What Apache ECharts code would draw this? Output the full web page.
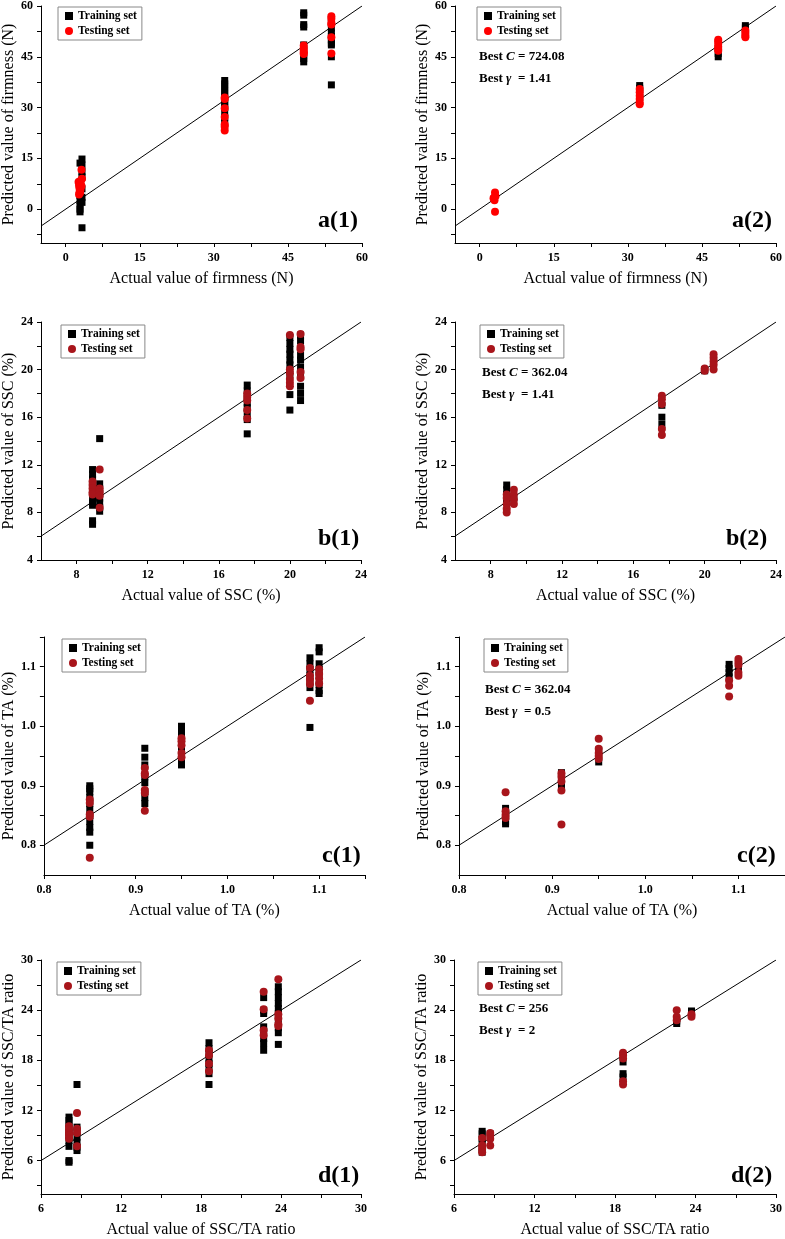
<!DOCTYPE html>
<html>
<head>
<meta charset="UTF-8">
<title>SVR prediction scatter</title>
<script src="https://cdn.jsdelivr.net/npm/echarts@6/dist/echarts.min.js"></script>
<style>
  html, body { margin: 0; padding: 0; background: #fff; }
  #chart { width: 785px; height: 1239px; }
</style>
</head>
<body>
<div id="chart"></div>
<script>
// ---- data ----
var a1Train = [[2.9,13.6],[2.9,8],[2.9,6],[2.9,4],[2.9,2.5],[2.9,1.2],[2.9,0],[2.9,-0.8],
  [3.3,14.8],[3.3,13],[3.3,11],[3.3,9.5],[3.3,6],[3.3,3.5],[3.3,2],[3.3,-5.5],
  [32.2,38],[32.2,37],[32.2,36],[32.2,35],[32.2,34],[32.2,33],[32.2,32],[32.2,31],[32.2,30],[32.2,28.5],[32.2,27],[32.2,25.5],
  [48.2,58],[48.2,57.3],[48.2,54.5],[48.2,53.8],[48.2,48.5],[48.2,47],[48.2,45.5],[48.2,44.5],[48.2,43.5],
  [53.8,56.5],[53.8,55],[53.8,53.5],[53.8,52],[53.8,51],[53.8,50],[53.8,49],[53.8,48.5],[53.8,45],[53.8,36.7]];
var a1Test = [[2.6,8],[2.7,7],[2.8,6.2],[2.8,5],[2.7,4.3],[3.0,7.5],[3.2,11.6],[3.3,9],[3.2,6.8],[3.0,5.8],[2.9,4.8],[3.1,8.5],
  [32.2,33],[32.2,32.5],[32.2,29.8],[32.2,27.2],[32.2,25],[32.2,24.3],[32.2,23.2],
  [48.2,48.3],[48.2,47.5],[48.2,46.8],[48.2,46.2],[48.2,45.8],
  [53.8,57],[53.8,56.2],[53.8,55],[53.8,54.5],[53.8,50.8],[53.8,46]];
var a2Train = [[32.4,36.5],[32.4,35.7],[32.4,34.5],[32.4,33],
  [48.3,45],[48.3,46],[48.3,47.5],[53.8,54.2],[53.8,53.5],[53.8,52]];
var a2Test = [[2.8,3.2],[3.0,2.6],[3.1,4.9],[3.2,3.8],[3.1,-0.8],[2.9,3.4],
  [32.4,35.5],[32.4,34.5],[32.4,33.5],[32.4,32.5],[32.4,31.5],[32.4,31],
  [48.3,50],[48.3,49.5],[48.3,48.8],[48.3,48],[48.3,47.3],[48.3,46.8],
  [53.8,52.8],[53.8,52],[53.8,51.2],[53.8,50.8]];
var b1Train = [[8.9,11.6],[8.9,11.2],[8.9,10.8],[8.9,10.4],[8.9,10],[8.9,9.6],[8.9,9.2],[8.9,8.8],[8.9,8.6],[8.9,7.3],[8.9,7.0],
  [9.3,14.2],[9.3,10.4],[9.3,10],[9.3,9.6],[9.3,9.2],[9.3,8.8],[9.3,8.4],[9.3,8.1],
  [17.6,18.7],[17.6,18.2],[17.6,17.6],[17.6,17.2],[17.6,16.8],[17.6,16.3],[17.6,15.8],[17.6,14.6],
  [20,22.7],[20,22.2],[20,21.7],[20,21.3],[20,20.8],[20,20.4],[20,19.6],[20,17.9],[20,16.6],
  [20.6,22.9],[20.6,22.4],[20.6,21.2],[20.6,20.8],[20.6,20.2],[20.6,19.7],[20.6,18.6],[20.6,18.0],[20.6,17.4]];
var b1Test = [[8.9,10.6],[8.9,10.3],[8.9,10.0],[8.9,9.7],[8.9,9.5],
  [9.3,11.6],[9.3,10],[9.3,9.7],[9.3,9.4],[9.3,8.4],
  [17.6,18.0],[17.6,17.7],[17.6,17.4],[17.6,16.6],[17.6,15.9],
  [20,22.9],[20,20.0],[20,19.7],[20,19.2],[20,18.9],[20,18.6],
  [20.6,23.0],[20.6,21.9],[20.6,21.7],[20.6,19.8],[20.6,19.3]];
var b2Train = [[8.9,10.3],[8.9,9.9],[8.9,9.5],[8.9,9.1],[8.9,8.9],[9.3,9.2],
  [17.6,17.0],[17.6,16.0],[17.6,15.4],[20,20.0],[20,19.9],[20.5,20.8],[20.5,20.2]];
var b2Test = [[8.9,9.5],[8.9,9.2],[8.9,8.7],[8.9,8.3],[8.9,8.0],
  [9.3,9.9],[9.3,9.5],[9.3,9.1],[9.3,8.7],
  [17.6,17.8],[17.6,17.5],[17.6,17.1],[17.6,15.0],[17.6,14.5],
  [20,20.1],[20,19.9],[20.5,21.3],[20.5,21.0],[20.5,20.7],[20.5,20.4],[20.5,20.0]];
var c1Train = [[0.85,0.90],[0.85,0.895],[0.85,0.89],[0.85,0.88],[0.85,0.87],[0.85,0.86],[0.85,0.85],[0.85,0.84],[0.85,0.83],[0.85,0.822],[0.85,0.80],
  [0.91,0.963],[0.91,0.948],[0.91,0.935],[0.91,0.915],[0.91,0.905],[0.91,0.89],[0.91,0.88],[0.91,0.87],
  [0.95,1.0],[0.95,0.99],[0.95,0.98],[0.95,0.97],[0.95,0.96],[0.95,0.95],[0.95,0.945],[0.95,0.935],
  [1.09,1.115],[1.09,1.105],[1.09,1.095],[1.09,1.085],[1.09,1.075],[1.09,1.065],[1.09,0.998],
  [1.1,1.132],[1.1,1.125],[1.1,1.105],[1.1,1.095],[1.1,1.085],[1.1,1.07],[1.1,1.06],[1.1,1.055]];
var c1Test = [[0.85,0.877],[0.85,0.871],[0.85,0.852],[0.85,0.848],[0.85,0.779],
  [0.91,0.93],[0.91,0.921],[0.91,0.918],[0.91,0.893],[0.91,0.888],[0.91,0.858],
  [0.95,0.98],[0.95,0.975],[0.95,0.968],[0.95,0.955],[0.95,0.948],
  [1.09,1.098],[1.09,1.085],[1.09,1.078],[1.09,1.071],[1.09,1.043],
  [1.1,1.096],[1.1,1.088],[1.1,1.08],[1.1,1.072]];
var c2Train = [[0.85,0.862],[0.85,0.855],[0.85,0.848],[0.85,0.84],[0.85,0.836],
  [0.91,0.922],[0.91,0.915],[0.91,0.905],[0.91,0.898],
  [0.95,0.96],[0.95,0.95],[0.95,0.94],
  [1.09,1.104],[1.09,1.097],[1.09,1.09],[1.09,1.083],[1.1,1.095]];
var c2Test = [[0.85,0.889],[0.85,0.857],[0.85,0.851],[0.85,0.846],
  [0.91,0.921],[0.91,0.915],[0.91,0.907],[0.91,0.892],[0.91,0.835],
  [0.95,0.979],[0.95,0.962],[0.95,0.955],[0.95,0.95],[0.95,0.945],
  [1.09,1.077],[1.09,1.068],[1.09,1.05],
  [1.1,1.113],[1.1,1.108],[1.1,1.103],[1.1,1.09],[1.1,1.085]];
var d1Train = [[8.1,11.2],[8.1,10.8],[8.1,10.4],[8.1,9.9],[8.1,9.4],[8.1,9.0],[8.1,8.4],[8.1,7.7],[8.1,6.0],[8.1,5.8],
  [8.7,15.1],[8.7,10.0],[8.7,9.5],[8.7,8.8],[8.7,8.2],[8.7,7.6],[8.7,7.2],
  [18.6,20.1],[18.6,19.4],[18.6,18.8],[18.6,18.2],[18.6,17.6],[18.6,17.0],[18.6,16.4],[18.6,15.1],
  [22.7,25.5],[22.7,24.0],[22.7,23.6],[22.7,22.0],[22.7,21.5],[22.7,20.6],[22.7,20.0],[22.7,19.2],
  [23.8,26.8],[23.8,26.2],[23.8,25.5],[23.8,24.8],[23.8,24.2],[23.8,23.6],[23.8,22.8],[23.8,21.9],[23.8,21.3],[23.8,19.9]];
var d1Test = [[8.1,10.1],[8.1,9.7],[8.1,9.3],[8.1,9.0],[8.1,8.6],
  [8.7,11.7],[8.7,9.8],[8.7,9.3],[8.7,7.7],
  [18.6,19.2],[18.6,18.6],[18.6,17.6],[18.6,16.7],
  [22.7,26.2],[22.7,24.1],[22.7,21.6],[22.7,21.0],
  [23.8,27.7],[23.8,23.5],[23.8,23.0],[23.8,22.3],[23.8,22.1]];
var d2Train = [[8.1,9.5],[8.1,9.2],[8.1,8.6],[8.1,8.1],[8.1,7.4],[8.1,7.0],[8.7,9.2],
  [18.6,17.8],[18.6,16.4],[18.6,16.0],[22.6,22.7],[22.6,22.4],[23.7,23.9],[23.7,23.5]];
var d2Test = [[8.1,8.7],[8.1,7.8],[8.1,7.4],[8.1,7.0],
  [8.7,9.3],[8.7,9.0],[8.7,8.6],[8.7,7.8],
  [18.6,18.9],[18.6,18.6],[18.6,18.2],[18.6,15.5],[18.6,15.1],
  [22.6,24.0],[22.6,23.2],[22.6,22.8],[23.7,23.5],[23.7,23.2]];

// 1:1 reference lines
var aLine = [[-5,-5],[60,60]];
var bLine = [[6,6],[24,24]];
var cLine = [[0.8,0.8],[1.15,1.15]];
var dLine = [[6,6],[30,30]];

// axis ranges, tick and label values
var aRange = {x:[-5,60], y:[-10,60]};
var bRange = {x:[6,24], y:[4,24]};
var cRange = {x:[0.8,1.15], y:[0.75,1.15]};
var dRange = {x:[6,30], y:[2,30]};
var aXLabels = [0,15,30,45,60], aXTicks = [0,7.5,15,22.5,30,37.5,45,52.5,60];
var aYLabels = [0,15,30,45,60], aYTicks = [-7.5,0,7.5,15,22.5,30,37.5,45,52.5,60];
var bXLabels = [8,12,16,20,24], bXTicks = [8,10,12,14,16,18,20,22,24];
var bYLabels = [4,8,12,16,20,24], bYTicks = [4,6,8,10,12,14,16,18,20,22,24];
var cXLabels = [0.8,0.9,1.0,1.1], cXTicks = [0.8,0.85,0.9,0.95,1.0,1.05,1.1,1.15];
var cYLabels = [0.8,0.9,1.0,1.1], cYTicks = [0.8,0.85,0.9,0.95,1.0,1.05,1.1,1.15];
var dXLabels = [6,12,18,24,30], dXTicks = [6,9,12,15,18,21,24,27,30];
var dYLabels = [6,12,18,24,30], dYTicks = [3,6,9,12,15,18,21,24,27,30];

var xNames = ['Actual value of firmness (N)', 'Actual value of SSC (%)', 'Actual value of TA (%)', 'Actual value of SSC/TA ratio'];
var yNames = ['Predicted value of firmness (N)', 'Predicted value of SSC (%)', 'Predicted value of TA (%)', 'Predicted value of SSC/TA ratio'];
var panelTags = ['a(1)','a(2)','b(1)','b(2)','c(1)','c(2)','d(1)','d(2)'];
var bestC = ['724.08', '362.04', '362.04', '256'];
var bestG = ['1.41', '1.41', '0.5', '2'];

// ---- layout ----
var serif = '"Times New Roman","Liberation Serif",serif';
var brightRed = '#ff0000', darkRed = '#a8151b';
var boxes = [[38,6,324,237],[455,6,324,237],[38,322,323,238],[455,322,324,238],
             [40,637,325,238],[459,637,326,238],[37,960,324,238],[454,960,325,238]];
var legendPos = [[58,7],[477,7],[61,325],[480,325],[62,639],[484,639],[57,962],[478,962]];
var tagPos = [[318,222],[732,222],[318,540],[726,540],[322,857],[737,857],[318,1177],[731,1177]];
var bestPos = [[479,58],[482,374],[485,691],[479,1010]];

var panels = [
  {train:a1Train, test:a1Test, line:aLine, r:aRange, xl:aXLabels, xt:aXTicks, yl:aYLabels, yt:aYTicks, red:brightRed, dec:0},
  {train:a2Train, test:a2Test, line:aLine, r:aRange, xl:aXLabels, xt:aXTicks, yl:aYLabels, yt:aYTicks, red:brightRed, dec:0},
  {train:b1Train, test:b1Test, line:bLine, r:bRange, xl:bXLabels, xt:bXTicks, yl:bYLabels, yt:bYTicks, red:darkRed, dec:0},
  {train:b2Train, test:b2Test, line:bLine, r:bRange, xl:bXLabels, xt:bXTicks, yl:bYLabels, yt:bYTicks, red:darkRed, dec:0},
  {train:c1Train, test:c1Test, line:cLine, r:cRange, xl:cXLabels, xt:cXTicks, yl:cYLabels, yt:cYTicks, red:darkRed, dec:1},
  {train:c2Train, test:c2Test, line:cLine, r:cRange, xl:cXLabels, xt:cXTicks, yl:cYLabels, yt:cYTicks, red:darkRed, dec:1},
  {train:d1Train, test:d1Test, line:dLine, r:dRange, xl:dXLabels, xt:dXTicks, yl:dYLabels, yt:dYTicks, red:darkRed, dec:0},
  {train:d2Train, test:d2Test, line:dLine, r:dRange, xl:dXLabels, xt:dXTicks, yl:dYLabels, yt:dYTicks, red:darkRed, dec:0}
];

var grid = [], xAxis = [], yAxis = [], series = [], legend = [], title = [];

function axisCfg(i, range, labels, ticks, dec, name, isY) {
  return {
    gridIndex: i, type: 'value', min: range[0], max: range[1],
    splitLine: {show: false},
    axisLine: {show: true, onZero: false, lineStyle: {color: '#000', width: 1}},
    axisTick: {show: true, length: 4, customValues: ticks, lineStyle: {color: '#000', width: 1}},
    axisLabel: {
      customValues: labels, margin: isY ? 8 : 9, color: '#000',
      fontFamily: serif, fontWeight: 'bold', fontSize: 12,
      formatter: function (v) { return dec ? Number(v).toFixed(dec) : String(v); }
    },
    name: name, nameLocation: 'middle', nameGap: isY ? 24 : 28,
    nameTextStyle: {fontFamily: serif, fontSize: 16, color: '#000'}
  };
}

panels.forEach(function (p, i) {
  var b = boxes[i];
  var row = Math.floor(i / 2);
  grid.push({left: b[0], top: b[1], width: b[2], height: b[3], containLabel: false});
  xAxis.push(axisCfg(i, p.r.x, p.xl, p.xt, p.dec, xNames[row], false));
  yAxis.push(axisCfg(i, p.r.y, p.yl, p.yt, p.dec, yNames[row], true));
  series.push({
    type: 'line', xAxisIndex: i, yAxisIndex: i, data: p.line, showSymbol: false,
    silent: true, lineStyle: {color: '#000', width: 1}, z: 1
  });
  series.push({
    name: 'Training set', type: 'scatter', xAxisIndex: i, yAxisIndex: i, data: p.train,
    symbol: 'rect', symbolSize: 7, itemStyle: {color: '#000', opacity: 1}, z: 2
  });
  series.push({
    name: 'Testing set', type: 'scatter', xAxisIndex: i, yAxisIndex: i, data: p.test,
    symbol: 'circle', symbolSize: 8, itemStyle: {color: p.red, opacity: 1}, z: 3
  });
  legend.push({
    left: legendPos[i][0], top: legendPos[i][1], orient: 'vertical', selectedMode: false,
    data: [
      {name: 'Training set', icon: 'rect', itemStyle: {color: '#000'}},
      {name: 'Testing set', icon: 'circle', itemStyle: {color: p.red}}
    ],
    itemWidth: 8, itemHeight: 8, itemGap: 3, padding: [3, 5, 3, 7],
    borderColor: '#888', borderWidth: 1,
    textStyle: {fontFamily: serif, fontWeight: 'bold', fontSize: 11.5, color: '#000'}
  });
  title.push({
    text: panelTags[i], left: tagPos[i][0], top: tagPos[i][1] - 13, padding: 0,
    textStyle: {fontFamily: serif, fontWeight: 'bold', fontSize: 24, color: '#000'}
  });
});

var rich = {
  b: {fontFamily: serif, fontWeight: 'bold', fontSize: 13, color: '#000'},
  i: {fontFamily: serif, fontWeight: 'bold', fontStyle: 'italic', fontSize: 13, color: '#000'}
};
bestPos.forEach(function (pos, k) {
  title.push({
    text: '{b|Best }{i|C}{b| = ' + bestC[k] + '}', left: pos[0], top: pos[1] - 8, padding: 0,
    textStyle: {rich: rich}
  });
  title.push({
    text: '{b|Best }{i|\u03b3}{b|  = ' + bestG[k] + '}', left: pos[0], top: pos[1] + 14, padding: 0,
    textStyle: {rich: rich}
  });
});

var chart = echarts.init(document.getElementById('chart'));
chart.setOption({
  backgroundColor: '#fff',
  animation: false,
  title: title,
  legend: legend,
  grid: grid,
  xAxis: xAxis,
  yAxis: yAxis,
  series: series
});
</script>
</body>
</html>
